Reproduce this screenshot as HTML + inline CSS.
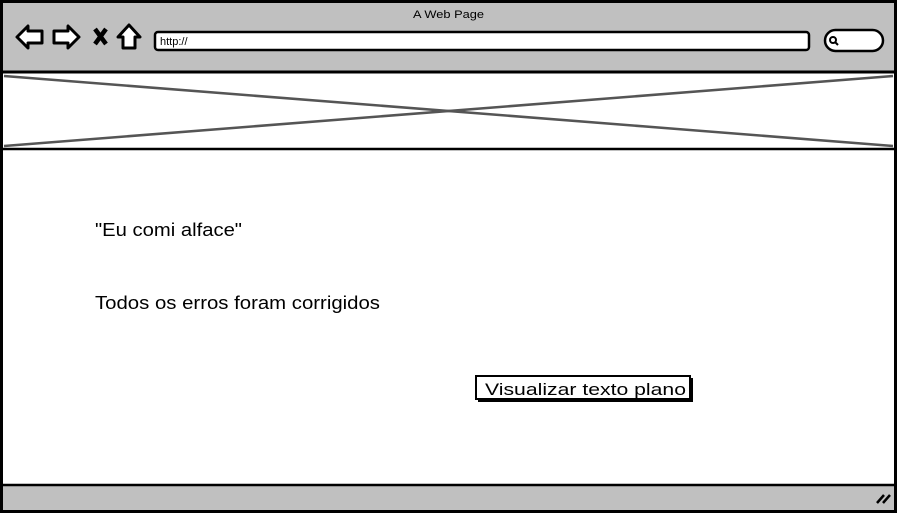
<!DOCTYPE html>
<html><head><meta charset="utf-8"><style>
html,body{margin:0;padding:0;background:#fff;}
svg{display:block;font-family:"Liberation Sans",sans-serif;}
</style></head><body>
<svg width="897" height="513" viewBox="0 0 897 513" xmlns="http://www.w3.org/2000/svg">
<rect x="1.5" y="1.5" width="894" height="510" fill="#fff" stroke="#000" stroke-width="3"/>
<rect x="3" y="3" width="891" height="68" fill="#c0c0c0"/>
<line x1="1" y1="72" x2="896" y2="72" stroke="#000" stroke-width="3"/>
<text x="413" y="18" font-size="11" textLength="71" lengthAdjust="spacingAndGlyphs" fill="#000">A Web Page</text>
<path d="M17 37 L28 26 L28 31 L42 31 L42 43 L28 43 L28 48 Z" fill="#fff" stroke="#000" stroke-width="3" stroke-linejoin="round"/>
<path d="M79 37 L68 26 L68 31 L54 31 L54 43 L68 43 L68 48 Z" fill="#fff" stroke="#000" stroke-width="3" stroke-linejoin="round"/>
<path d="M95 29 L106 44 M106 29 L95 44" stroke="#000" stroke-width="4.5"/>
<path d="M129 25 L140 37 L135 37 L135 48 L123 48 L123 37 L118 37 Z" fill="#fff" stroke="#000" stroke-width="3" stroke-linejoin="round"/>
<rect x="155" y="32" width="654" height="18" rx="3" fill="#fff" stroke="#000" stroke-width="2.5"/>
<text x="160" y="45" font-size="11" fill="#000">http://</text>
<rect x="825" y="30" width="58" height="21" rx="10.5" fill="#fff" stroke="#000" stroke-width="2.5"/>
<circle cx="833" cy="40" r="3" fill="none" stroke="#000" stroke-width="2"/>
<line x1="835" y1="42" x2="838" y2="45" stroke="#000" stroke-width="2"/>
<line x1="1" y1="149" x2="896" y2="149" stroke="#000" stroke-width="2.5"/>
<line x1="4" y1="76" x2="893" y2="146" stroke="#555" stroke-width="2.5"/>
<line x1="893" y1="76" x2="4" y2="146" stroke="#555" stroke-width="2.5"/>
<text x="95" y="236" font-size="18" textLength="147" lengthAdjust="spacingAndGlyphs" fill="#000">"Eu comi alface"</text>
<text x="95" y="309" font-size="18" textLength="285" lengthAdjust="spacingAndGlyphs" fill="#000">Todos os erros foram corrigidos</text>
<rect x="478" y="378" width="215" height="24" fill="#000"/>
<rect x="476" y="376" width="214" height="23" fill="#fff" stroke="#000" stroke-width="2"/>
<text x="485" y="395" font-size="17" textLength="201" lengthAdjust="spacingAndGlyphs" fill="#000">Visualizar texto plano</text>
<rect x="3" y="486" width="891" height="24" fill="#c0c0c0"/>
<line x1="1" y1="485" x2="896" y2="485" stroke="#000" stroke-width="2.5"/>
<path d="M877 503 L884 495 M883 503 L890 495" stroke="#000" stroke-width="2.5"/>
</svg>
</body></html>
